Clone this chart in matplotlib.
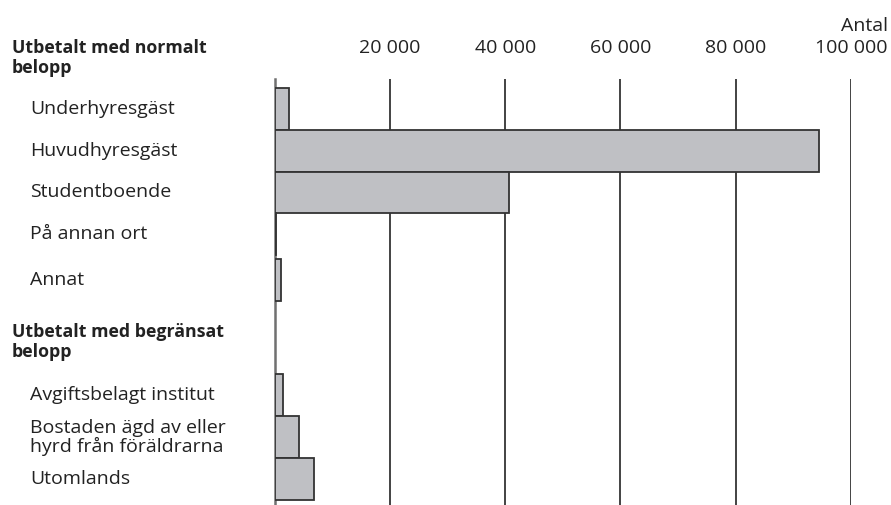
import matplotlib.pyplot as plt
from matplotlib.transforms import blended_transform_factory

plt.rcParams['font.family'] = ['Open Sans', 'DejaVu Sans']

# Datos
grupo1 = "Utbetalt med normalt\nbelopp"
grupo2 = "Utbetalt med begränsat\nbelopp"
categorias = ["Underhyresgäst", "Huvudhyresgäst", "Studentboende", "På annan ort", "Annat",
              "Avgiftsbelagt institut", "Bostaden ägd av eller\nhyrd från föräldrarna", "Utomlands"]
valores = [2400, 94400, 40600, 300, 1150, 1500, 4250, 6850]
ticks = [20000, 40000, 60000, 80000, 100000]

# Posiciones de las filas (en unidades de fila)
filas = [0, 1, 2, 3, 4.1, 6.86, 7.87, 8.87]
pos_grupos = [-1.22, 5.59]

fig = plt.figure(figsize=(8.91, 5.05), dpi=100)
ax = fig.add_axes([274.7 / 891, 0, (851 - 274.7) / 891, (505 - 79) / 505])

ax.barh(filas, valores, height=1.0, color='#bfc0c4', edgecolor='#333333', linewidth=1.3, zorder=3)

ax.set_xlim(0, 100000)
ax.set_ylim(9.5, -0.72)

ax.xaxis.tick_top()
ax.set_xticks(ticks)
ax.set_xticklabels([f"{t:,.0f}".replace(",", " ") for t in ticks])
ax.tick_params(axis='x', length=0, pad=16, labelsize=14, labelcolor='#222222')
ax.set_yticks([])
for t in ticks:
    ax.axvline(t, color='#222222', linewidth=1.2, zorder=1)
ax.axvline(0, color='#707070', linewidth=1.8, zorder=2, clip_on=False)

for s in ax.spines.values():
    s.set_visible(False)

trans = blended_transform_factory(fig.transFigure, ax.transData)
for y, nombre in zip(filas, categorias):
    ax.text(30 / 891, y, nombre, transform=trans, ha='left', va='center',
            fontsize=14, color='#222222', linespacing=1.0)
for y, nombre in zip(pos_grupos, [grupo1, grupo2]):
    ax.text(12 / 891, y, nombre, transform=trans, ha='left', va='center',
            fontsize=12.8, fontweight='bold', color='#222222', linespacing=1.1)

fig.text(888 / 891, 1 - 26 / 505, "Antal", ha='right', va='center', fontsize=14, color='#222222')

plt.savefig('out.png', dpi=100)
